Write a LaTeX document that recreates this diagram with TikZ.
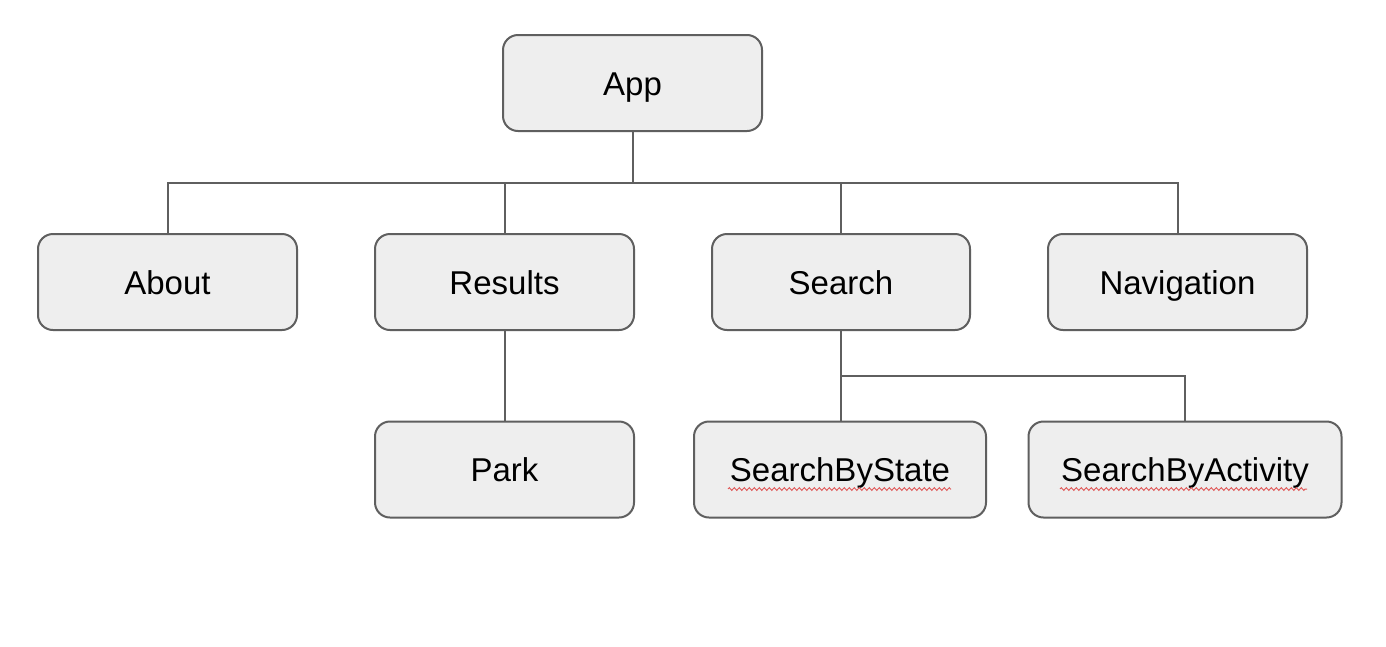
\documentclass[tikz,border=0pt]{standalone}
\usepackage{fontspec}
\setmainfont{Liberation Sans}
\usetikzlibrary{decorations.pathmorphing}
\definecolor{boxfill}{HTML}{EEEEEE}
\definecolor{boxline}{HTML}{5F5F5F}
\definecolor{squig}{HTML}{E05A5A}
\begin{document}
\begin{tikzpicture}[x=1pt,y=-1pt,
  box/.style={draw=boxline, fill=boxfill, line width=2pt, rounded corners=15pt,
    minimum height=96pt, inner sep=0pt, text height=24pt, text depth=0pt,
    font=\fontsize{33}{40}\selectfont},
  link/.style={draw=boxline, line width=2pt},
  squiggle/.style={draw=squig, line width=1pt, decorate,
    decoration={zigzag, amplitude=1.3pt, segment length=5pt}}]
\useasboundingbox[fill=white] (0,0) rectangle (1386,646);
\node[box, minimum width=259pt] (app) at (632.5,83) {App};
\node[box, minimum width=259pt] (about) at (167.5,282) {About};
\node[box, minimum width=259pt] (results) at (504.5,282) {Results};
\node[box, minimum width=258pt] (search) at (841,282) {Search};
\node[box, minimum width=259pt] (nav) at (1177.5,282) {Navigation};
\node[box, minimum width=259pt] (park) at (504.5,469.5) {Park};
\node[box, minimum width=292pt] (sbs) at (840,469.5) {SearchByState};
\node[box, minimum width=313pt] (sba) at (1185,469.5) {SearchByActivity};
\coordinate (bus) at (632.5,183);
\coordinate (sbus) at (841,376);
\draw[link] (app.south) -- (bus);
\draw[link] (about.north) |- (bus) -| (nav.north);
\draw[link] (results.north) -- (results.north |- bus);
\draw[link] (search.north) -- (search.north |- bus);
\draw[link] (results.south) -- (park.north);
\draw[link] (search.south) -- (sbus) -| (sba.north);
\draw[link] (sbus) -- (sbus |- sbs.north);
\draw[squiggle] (728,489) -- (951,489);
\draw[squiggle] (1060,489) -- (1307,489);
\end{tikzpicture}
\end{document}
